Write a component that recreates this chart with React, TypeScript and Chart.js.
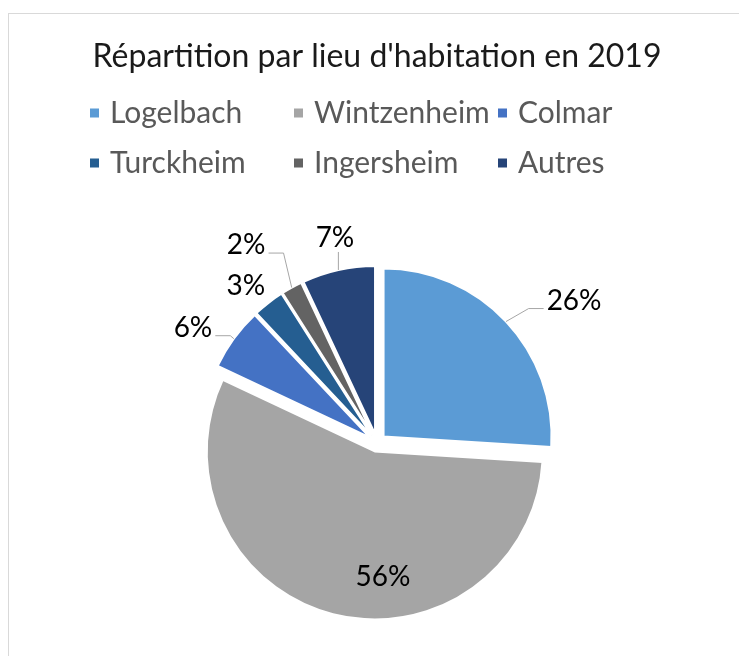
import React, { useEffect, useRef } from "react";
import { Chart, registerables, ArcElement } from "chart.js";

Chart.register(...registerables);

// Excel-style explosion: translate each slice along its middle angle by `offset` px,
// without Chart.js's radius growth for exploded slices.
const baseArcDraw = (ArcElement.prototype as any).draw;
(ArcElement.prototype as any).draw = function (ctx: CanvasRenderingContext2D) {
  const orig = this.options;
  const shift = (orig && orig.offset) || 0;
  const mid = (this.startAngle + this.endAngle) / 2;
  ctx.save();
  ctx.translate(Math.cos(mid) * shift, Math.sin(mid) * shift);
  this.options = Object.assign({}, orig, { offset: 0 });
  baseArcDraw.call(this, ctx);
  this.options = orig;
  ctx.restore();
};

const TITLE = "Répartition par lieu d'habitation en 2019";
const CATEGORIES = ["Logelbach", "Wintzenheim", "Colmar", "Turckheim", "Ingersheim", "Autres"];
const SHARES = [26, 56, 6, 3, 2, 7];
const COLORS = ["#5B9BD5", "#A5A5A5", "#4472C4", "#255E91", "#636363", "#264478"];

// placement of the percentage labels: angle shift from the slice middle (deg),
// distance from the pie centre (px), and whether a leader line is drawn
const LABEL_ANGLE_SHIFT = [7.4, -17, -4, -2.2, -4.7, 1];
const LABEL_DISTANCE = [243, 134, 217, 204, 237, 209];
const LABEL_LEADER = [true, false, true, false, true, true];

const FONT = "Lato, 'DejaVu Sans', sans-serif";

const legendGrid = {
  id: "legendGrid",
  afterDraw(chart: any) {
    const ctx = chart.ctx as CanvasRenderingContext2D;
    const colX = [81, 285, 489];
    const rowY = [99, 149];
    ctx.save();
    ctx.font = `30px ${FONT}`;
    ctx.textBaseline = "middle";
    ctx.textAlign = "left";
    CATEGORIES.forEach((name, i) => {
      const x = colX[i % 3];
      const y = rowY[Math.floor(i / 3)];
      ctx.fillStyle = COLORS[i];
      ctx.fillRect(x, y - 4.5, 9, 9);
      ctx.fillStyle = "#595959";
      ctx.fillText(name, x + 20, y);
    });
    ctx.restore();
  },
};

const sliceLabels = {
  id: "sliceLabels",
  afterDatasetsDraw(chart: any) {
    const meta = chart.getDatasetMeta(0);
    const ctx = chart.ctx as CanvasRenderingContext2D;
    const total = SHARES.reduce((a, b) => a + b, 0);
    ctx.save();
    ctx.font = `28px ${FONT}`;
    ctx.textAlign = "center";
    ctx.textBaseline = "middle";
    meta.data.forEach((arc: any, i: number) => {
      const { x, y, startAngle, endAngle, outerRadius } = arc.getProps(
        ["x", "y", "startAngle", "endAngle", "outerRadius"],
        true
      );
      const off = arc.options.offset || 0;
      const mid = (startAngle + endAngle) / 2;
      const a = mid + (LABEL_ANGLE_SHIFT[i] * Math.PI) / 180;
      const lx = x + LABEL_DISTANCE[i] * Math.cos(a);
      const ly = y + LABEL_DISTANCE[i] * Math.sin(a);
      const text = Math.round((SHARES[i] / total) * 100) + "%";
      const w = ctx.measureText(text).width;
      if (LABEL_LEADER[i]) {
        const px = x + (outerRadius + off) * Math.cos(mid);
        const py = y + (outerRadius + off) * Math.sin(mid);
        ctx.beginPath();
        ctx.strokeStyle = "#A6A6A6";
        ctx.lineWidth = 1;
        if (Math.abs(px - lx) < w / 2) {
          ctx.moveTo(px, py);
          ctx.lineTo(px, ly + 14);
        } else {
          const side = px > lx ? 1 : -1;
          const ex = lx + side * (w / 2 + 3);
          const ey = ly + 8;
          ctx.moveTo(px, py);
          ctx.lineTo(ex + side * 15, ey);
          ctx.lineTo(ex, ey);
        }
        ctx.stroke();
      }
      ctx.fillStyle = "#000000";
      ctx.fillText(text, lx, ly);
    });
    ctx.restore();
  },
};

export default function App() {
  const ref = useRef<HTMLCanvasElement | null>(null);

  useEffect(() => {
    if (!ref.current) return;
    const chart = new Chart(ref.current, {
      type: "pie",
      data: {
        labels: CATEGORIES,
        datasets: [
          {
            data: SHARES,
            backgroundColor: COLORS,
            borderWidth: 2,
            borderColor: "#ffffff",
            offset: 9,
            hoverOffset: 9,
            radius: 168,
          } as any,
        ],
      },
      options: {
        responsive: false,
        animation: false,
        events: [],
        layout: { padding: { left: 6, right: 0, top: 0, bottom: 6 } },
        plugins: {
          legend: { display: false },
          tooltip: { enabled: false },
          title: {
            display: true,
            text: TITLE,
            color: "#1a1a1a",
            font: { family: FONT, size: 32, weight: "normal" as any },
            padding: { top: 23, bottom: 160 },
          },
        },
      },
      plugins: [sliceLabels, legendGrid],
    });
    return () => chart.destroy();
  }, []);

  return (
    <div style={{ paddingTop: 5 }}>
      <div
        style={{
          width: 730,
          height: 642,
          borderLeft: "1px solid #d9d9d9",
          borderTop: "1px solid #d9d9d9",
        }}
      >
        <canvas ref={ref} width={730} height={642} style={{ display: "block" }} />
      </div>
    </div>
  );
}
